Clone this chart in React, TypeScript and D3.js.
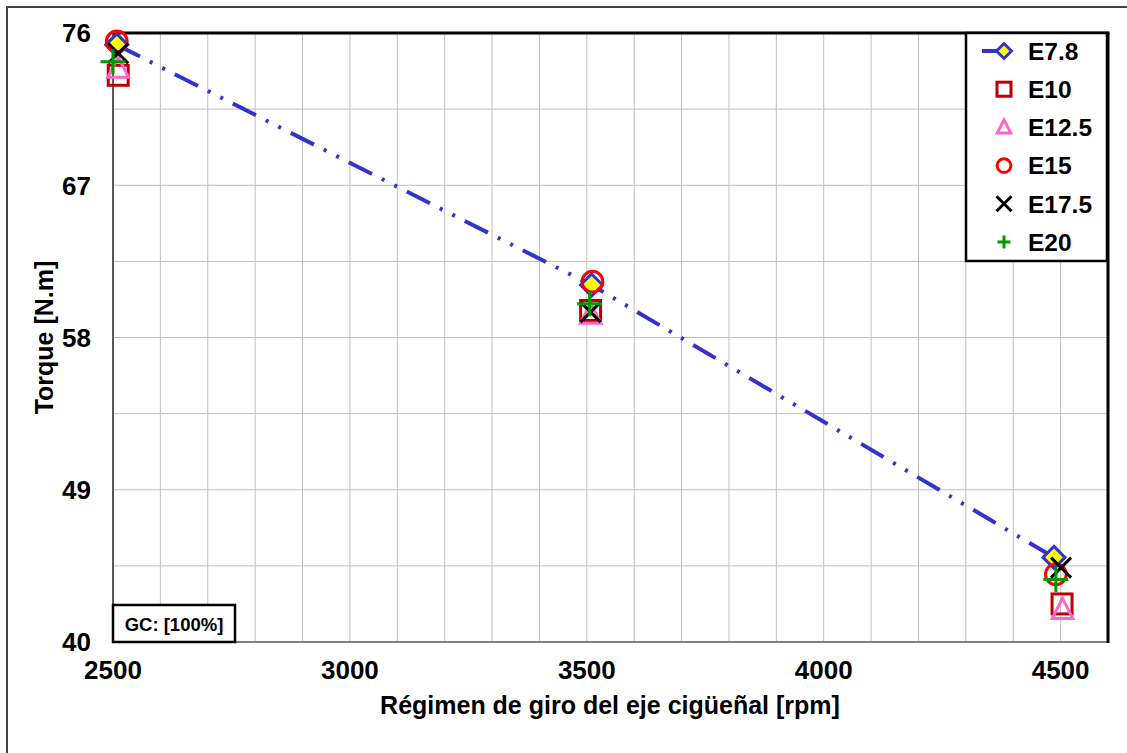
import React from "react";
import * as d3 from "d3";

// Torque vs. crankshaft speed for several ethanol blends
const seriesNames = ["E7.8", "E10", "E12.5", "E15", "E17.5", "E20"];
const rpmE78 = [2508, 3510, 4486];
const torqueE78 = [75.3, 61.1, 45.0];
const rpmE10 = [2511, 3508, 4503];
const torqueE10 = [73.5, 59.6, 42.25];
const rpmE125 = [2511, 3508, 4504];
const torqueE125 = [73.9, 59.35, 41.9];
const rpmE15 = [2508, 3512, 4490];
const torqueE15 = [75.5, 61.3, 44.0];
const rpmE175 = [2511, 3508, 4501];
const torqueE175 = [74.8, 59.5, 44.4];
const rpmE20 = [2500, 3506, 4490];
const torqueE20 = [74.3, 60.0, 43.7];

const xTicks = [2500, 3000, 3500, 4000, 4500];
const yTicks = [40, 49, 58, 67, 76];
const xGrid = d3.range(2600, 4600, 100);
const yGrid = d3.range(40, 76.01, 4.5);

const W = 1127;
const H = 753;
const left = 113;
const right = 1108;
const top = 33;
const bottom = 642;

const x = d3.scaleLinear().domain([2500, 4600]).range([left, right]);
const y = d3.scaleLinear().domain([40, 76]).range([bottom, top]);

type Kind = "diamond" | "square" | "triangle" | "circle" | "cross" | "plus";

const seriesData: { name: string; rpm: number[]; torque: number[]; kind: Kind; color: string; size: number }[] = [
  { name: seriesNames[0], rpm: rpmE78, torque: torqueE78, kind: "diamond", color: "#3333CC", size: 22 },
  { name: seriesNames[1], rpm: rpmE10, torque: torqueE10, kind: "square", color: "#C00000", size: 23.5 },
  { name: seriesNames[2], rpm: rpmE125, torque: torqueE125, kind: "triangle", color: "#FF66CC", size: 23 },
  { name: seriesNames[3], rpm: rpmE15, torque: torqueE15, kind: "circle", color: "#FF0000", size: 22.5 },
  { name: seriesNames[4], rpm: rpmE175, torque: torqueE175, kind: "cross", color: "#000000", size: 20 },
  { name: seriesNames[5], rpm: rpmE20, torque: torqueE20, kind: "plus", color: "#009900", size: 25 },
];

function Marker({ kind, cx, cy, s, color, sw }: { kind: Kind; cx: number; cy: number; s: number; color: string; sw: number }) {
  const h = s / 2;
  switch (kind) {
    case "diamond":
      return (
        <path
          d={`M${cx},${cy - h}L${cx + h},${cy}L${cx},${cy + h}L${cx - h},${cy}Z`}
          fill="#FFFF00"
          stroke={color}
          strokeWidth={sw}
        />
      );
    case "square":
      return <rect x={cx - h * 0.85} y={cy - h * 0.85} width={s * 0.85} height={s * 0.85} fill="none" stroke={color} strokeWidth={sw} />;
    case "triangle":
      return (
        <path
          d={`M${cx},${cy - h}L${cx + h * 0.9},${cy + h * 0.75}L${cx - h * 0.9},${cy + h * 0.75}Z`}
          fill="none"
          stroke={color}
          strokeWidth={sw}
        />
      );
    case "circle":
      return <circle cx={cx} cy={cy} r={h * 0.92} fill="none" stroke={color} strokeWidth={sw} />;
    case "cross":
      return (
        <path
          d={`M${cx - h},${cy - h}L${cx + h},${cy + h}M${cx - h},${cy + h}L${cx + h},${cy - h}`}
          stroke={color}
          strokeWidth={sw}
        />
      );
    case "plus":
      return (
        <path
          d={`M${cx - h},${cy}L${cx + h},${cy}M${cx},${cy - h}L${cx},${cy + h}`}
          stroke={color}
          strokeWidth={sw}
        />
      );
  }
}

export default function App() {
  const font = "'Liberation Sans', Arial, sans-serif";
  const line = d3
    .line<number>()
    .x((_, i) => x(rpmE78[i]))
    .y((d) => y(d));

  const legendX = 966;
  const legendY = 33;
  const legendW = 141;
  const legendH = 228;
  const rowGap = 38.2;

  return (
    <svg
      width={W}
      height={H}
      style={{ position: "absolute", left: 0, top: 0, background: "#fff" }}
      fontFamily={font}
    >
      {/* outer frame */}
      <rect x={7} y={7} width={W + 20} height={H + 20} fill="none" stroke="#444" strokeWidth={2} />

      {/* gridlines */}
      {xGrid.map((v) => (
        <line key={"gx" + v} x1={x(v)} x2={x(v)} y1={top} y2={bottom} stroke="#BFBFBF" strokeWidth={1} />
      ))}
      {yGrid.map((v) => (
        <line key={"gy" + v} x1={left} x2={right} y1={y(v)} y2={y(v)} stroke="#BFBFBF" strokeWidth={1} />
      ))}

      {/* plot frame */}
      <line x1={left} x2={right} y1={bottom} y2={bottom} stroke="#7F7F7F" strokeWidth={2} />
      <line x1={left} x2={left} y1={top} y2={bottom} stroke="#595959" strokeWidth={2} />
      <line x1={left} x2={right + 1.5} y1={top} y2={top} stroke="#000" strokeWidth={3} />
      <line x1={right} x2={right} y1={top} y2={bottom + 1} stroke="#000" strokeWidth={3} />

      {/* E7.8 trend line */}
      <path
        d={line(torqueE78) ?? ""}
        fill="none"
        stroke="#3333CC"
        strokeWidth={4}
        strokeDasharray="26 11 3 11 3 11"
      />

      {/* markers */}
      {seriesData.map((s) =>
        s.rpm.map((r, i) => (
          <Marker
            key={s.name + i}
            kind={s.kind}
            cx={x(r)}
            cy={y(s.torque[i])}
            s={s.size}
            color={s.color}
            sw={3}
          />
        ))
      )}

      {/* tick labels */}
      {yTicks.map((v) => (
        <text
          key={"yt" + v}
          x={91}
          y={y(v)}
          dy="0.36em"
          textAnchor="end"
          fontSize={26}
          fontWeight="bold"
        >
          {v}
        </text>
      ))}
      {xTicks.map((v) => (
        <text key={"xt" + v} x={x(v)} y={679} textAnchor="middle" fontSize={26} fontWeight="bold">
          {v}
        </text>
      ))}

      {/* axis titles */}
      <text x={610} y={714} textAnchor="middle" fontSize={25} fontWeight="bold">
        Régimen de giro del eje cigüeñal [rpm]
      </text>
      <text
        transform={`translate(53,${(top + bottom) / 2}) rotate(-90)`}
        textAnchor="middle"
        fontSize={25}
        fontWeight="bold"
      >
        Torque [N.m]
      </text>

      {/* GC annotation */}
      <rect x={left} y={605} width={122} height={37} fill="#fff" stroke="#000" strokeWidth={2.5} />
      <text x={left + 61} y={631} textAnchor="middle" fontSize={18.5} fontWeight="bold">
        GC: [100%]
      </text>

      {/* legend */}
      <rect x={legendX} y={legendY} width={legendW} height={legendH} fill="#fff" stroke="#000" strokeWidth={2.5} />
      {seriesData.map((s, i) => {
        const cy = legendY + 18 + i * rowGap;
        return (
          <g key={"lg" + s.name}>
            {s.kind === "diamond" && (
              <line x1={982} x2={1000} y1={cy} y2={cy} stroke={s.color} strokeWidth={4} />
            )}
            <Marker
              kind={s.kind}
              cx={1004}
              cy={cy}
              s={s.kind === "plus" ? 13 : s.kind === "square" ? 16.5 : 15}
              color={s.color}
              sw={3}
            />
            <text x={1028} y={cy} dy="0.36em" fontSize={24.5} fontWeight="bold">
              {s.name}
            </text>
          </g>
        );
      })}
    </svg>
  );
}
